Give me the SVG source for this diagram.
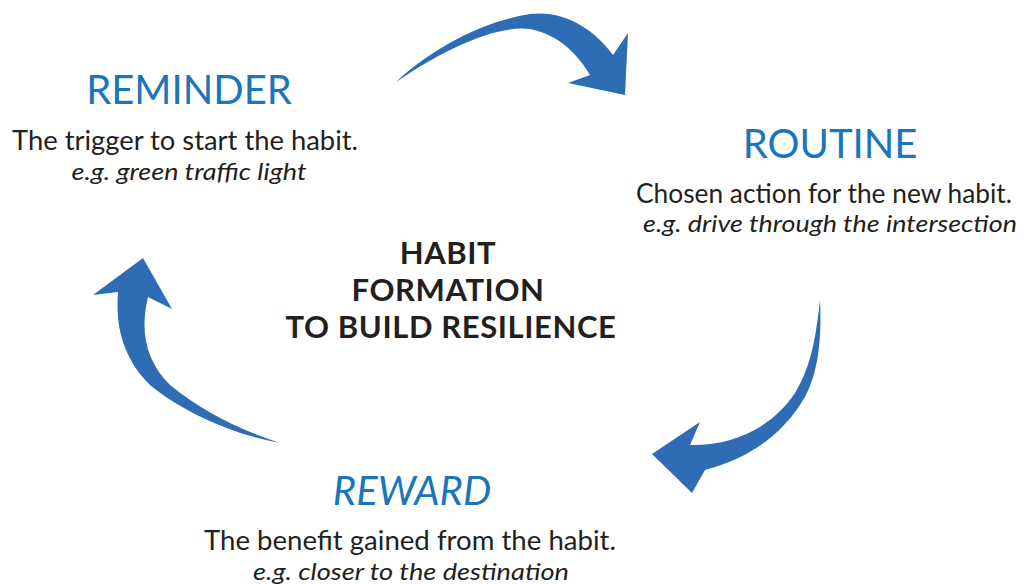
<svg xmlns="http://www.w3.org/2000/svg" width="1027" height="585" viewBox="0 0 1027 585">
<style>
.title{font-family:Lato,"Noto Sans",sans-serif;font-size:40px;fill:#1B75BB;text-anchor:middle}
.body{font-family:Lato,"Noto Sans",sans-serif;font-size:26px;fill:#231F20;text-anchor:middle}
.ex{font-family:Lato,"Noto Sans",sans-serif;font-size:24px;font-style:italic;fill:#231F20;text-anchor:middle}
.center{font-family:Lato,"Noto Sans",sans-serif;font-size:31px;font-weight:bold;fill:#231F20;text-anchor:middle;letter-spacing:0.6px}
.arrow{fill:#2E6DB4}
</style>
<rect width="1027" height="585" fill="#ffffff"/>
<g id="connectors">
<path class="arrow" d="M396,82 C430,50 480,22 530,14 C565,10 595,30 613,55 L628,33 L625,95 L568,83 L590,75 C578,55 560,35 530,29 C500,25 450,45 396,82 Z"/>
<path class="arrow" d="M820,300 C822,340 818,380 800,405 C780,435 750,458 705,470 L692,493 L652,454 L700,422 L690,445 C730,446 770,430 795,393 C812,365 816,335 820,300 Z"/>
<path class="arrow" d="M280,443 C230,434 180,410 150,385 C125,360 115,330 118,292 L93,295 L143,258 L172,309 L148,297 C140,330 145,360 170,385 C200,410 240,430 280,443 Z"/>
</g>
<g id="center">
<text class="center" x="448" y="264">HABIT</text>
<text class="center" x="448" y="301">FORMATION</text>
<text class="center" x="451" y="338">TO BUILD RESILIENCE</text>
</g>
<g id="reminder">
<text class="title" x="189" y="104">REMINDER</text>
<text class="body" x="185" y="150" textLength="346" lengthAdjust="spacingAndGlyphs">The trigger to start the habit.</text>
<text class="ex" x="189" y="180" textLength="235" lengthAdjust="spacingAndGlyphs">e.g. green traffic light</text>
</g>
<g id="routine">
<text class="title" x="830" y="158">ROUTINE</text>
<text class="body" x="824" y="203" textLength="376" lengthAdjust="spacingAndGlyphs">Chosen action for the new habit.</text>
<text class="ex" x="830" y="232" textLength="374" lengthAdjust="spacingAndGlyphs">e.g. drive through the intersection</text>
</g>
<g id="reward">
<text class="title" x="412" y="505" font-style="italic">REWARD</text>
<text class="body" x="410" y="550" textLength="412" lengthAdjust="spacingAndGlyphs">The benefit gained from the habit.</text>
<text class="ex" x="411" y="580" textLength="316" lengthAdjust="spacingAndGlyphs">e.g. closer to the destination</text>
</g>
</svg>
